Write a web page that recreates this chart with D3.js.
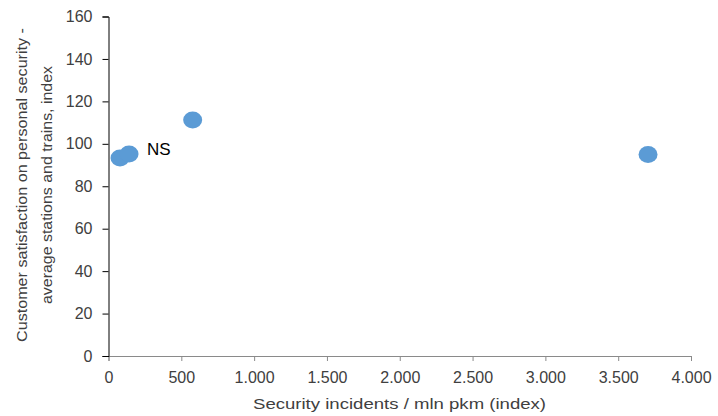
<!DOCTYPE html>
<html>
<head>
<meta charset="utf-8">
<script src="https://cdn.jsdelivr.net/npm/d3@7"></script>
<style>
html,body{margin:0;padding:0;background:#fff;}
svg{display:block;font-family:"Liberation Sans","DejaVu Sans",sans-serif;}
</style>
</head>
<body>
<svg id="chart" width="718" height="416"></svg>
<script>
const incidents = [79, 141, 578, 3705];
const satisfaction = [93.3, 95.2, 111.2, 95];
const pointLabels = ["", "NS", "", ""];
const xTicks = [0, 500, 1000, 1500, 2000, 2500, 3000, 3500, 4000];
const yTicks = [0, 20, 40, 60, 80, 100, 120, 140, 160];
const xTitle = "Security incidents / mln pkm (index)";
const yTitle = ["Customer satisfaction on personal security -", "average stations and trains, index"];

(function () {
const svg = d3.select("#chart");
const mLeft = 108.5, mRight = 691, mTop = 16.5, mBottom = 356;
const x = d3.scaleLinear().domain([0, 4000]).range([mLeft, mRight]);
const y = d3.scaleLinear().domain([0, 160]).range([mBottom, mTop]);
const loc = d3.formatLocale({thousands: ".", decimal: ",", grouping: [3], currency: ["", ""]});
const fmt = loc.format(",.0f");

const gx = svg.append("g").attr("transform", `translate(0,${mBottom})`)
  .call(d3.axisBottom(x).tickValues(xTicks).tickFormat(fmt).tickSizeInner(5).tickSizeOuter(5).tickPadding(11));
gx.select(".domain").attr("stroke", "#8a8a8a");
gx.selectAll(".tick line").attr("stroke", "#8a8a8a");
gx.selectAll(".tick text").attr("font-size", "16px").attr("fill", "#404040")
  .attr("font-family", "Liberation Sans, sans-serif");

const gy = svg.append("g").attr("transform", `translate(${mLeft},0)`)
  .call(d3.axisLeft(y).tickValues(yTicks).tickSizeInner(6).tickSizeOuter(6).tickPadding(10));
gy.select(".domain").attr("stroke", "#000");
gy.selectAll(".tick line").attr("stroke", "#000");
gy.selectAll(".tick text").attr("font-size", "16px").attr("fill", "#404040")
  .attr("font-family", "Liberation Sans, sans-serif");

svg.append("text").attr("x", 399.5).attr("y", 409).attr("text-anchor", "middle")
  .attr("font-size", "15px").attr("fill", "#404040")
  .attr("textLength", 293).attr("lengthAdjust", "spacingAndGlyphs").text(xTitle);

yTitle.forEach((t, i) => {
  const cx = 27 + i * 25, cy = 185;
  svg.append("text").attr("transform", `translate(${cx},${cy}) rotate(-90)`)
    .attr("text-anchor", "middle").attr("font-size", "15px").attr("fill", "#404040")
    .attr("textLength", i === 0 ? 314 : 238).attr("lengthAdjust", "spacingAndGlyphs").text(t);
});

const pts = incidents.map((v, i) => ({x: v, y: satisfaction[i], label: pointLabels[i]}));
svg.append("g").selectAll("ellipse").data(pts).join("ellipse")
  .attr("cx", d => x(d.x)).attr("cy", d => y(d.y)).attr("rx", 9.5).attr("ry", 8.5)
  .attr("fill", "#5B9BD5");

svg.append("g").selectAll("text").data(pts.filter(d => d.label)).join("text")
  .attr("x", d => x(d.x) + 18).attr("y", d => y(d.y) + 1.5)
  .attr("font-size", "17px").attr("fill", "#000").text(d => d.label);
})();
</script>
</body>
</html>
